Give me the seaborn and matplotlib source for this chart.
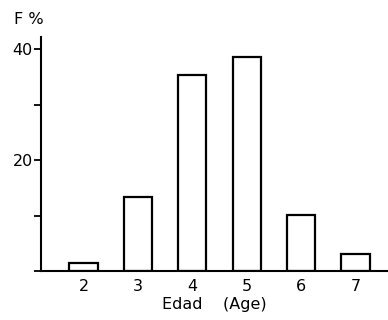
import matplotlib
matplotlib.use("Agg")
import matplotlib.pyplot as plt
import seaborn as sns
import pandas as pd
from matplotlib.ticker import MultipleLocator

ages = ["2", "3", "4", "5", "6", "7"]
freq = [1.4, 13.3, 35.3, 38.7, 10.1, 3.1]

df = pd.DataFrame({"age": ages, "freq": freq})

sns.set_style("ticks")
plt.rcParams['font.family'] = ['DejaVu Sans']
plt.rcParams['text.color'] = 'black'
plt.rcParams['axes.labelcolor'] = 'black'
plt.rcParams['xtick.color'] = 'black'
plt.rcParams['ytick.color'] = 'black'
plt.rcParams['axes.edgecolor'] = 'black'

fig = plt.figure(figsize=(3.88, 3.2), dpi=100)
ax = fig.add_axes([0.106, 0.153, 0.894, 0.731])
sns.barplot(data=df, x="age", y="freq", order=ages, color="white",
            edgecolor="black", linewidth=1.6, width=0.52, ax=ax)
ax.set_xlim(-0.78, 5.6)
ax.set_ylim(0, 42.2)
ax.set_yticks([20, 40])
ax.yaxis.set_minor_locator(MultipleLocator(10))
ax.tick_params(axis="y", which="both", direction="out", length=5, width=1.3,
               labelsize=11.5, pad=1, colors="black")
ax.tick_params(axis="x", length=0, labelsize=11.5, pad=6, colors="black")
for s in ["top", "right"]:
    ax.spines[s].set_visible(False)
for s in ["left", "bottom"]:
    ax.spines[s].set_linewidth(1.5)
    ax.spines[s].set_color("black")
ax.set_xlabel("Edad    (Age)", fontsize=11.5, labelpad=2, color="black")
ax.set_ylabel("")
fig.text(0.035, 0.94, "F %", fontsize=11.5, ha="left", va="center", color="black")
fig.savefig("out.png", dpi=100)
